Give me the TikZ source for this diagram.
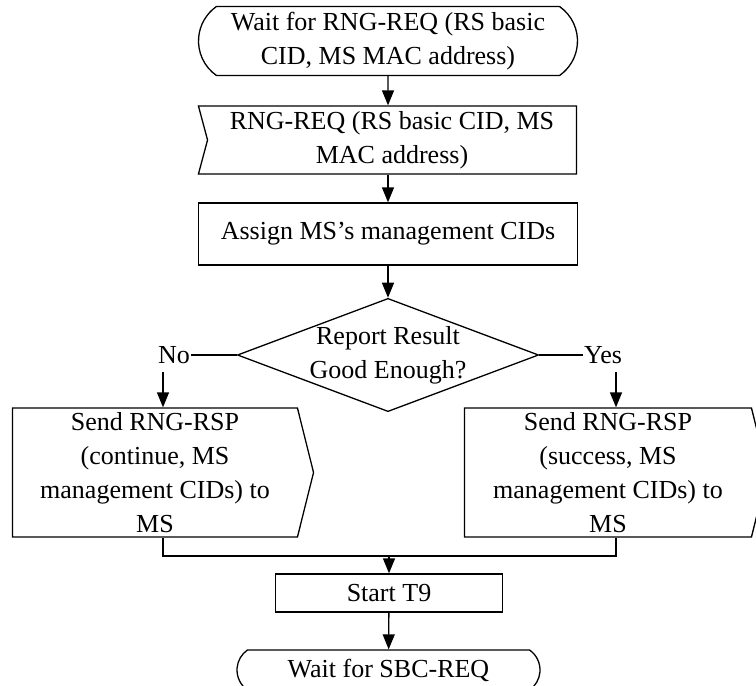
\documentclass[tikz,border=0pt]{standalone}
\usepackage{fontspec}
\setmainfont{Liberation Serif}
\usetikzlibrary{positioning,shapes.geometric,shapes.misc,shapes.symbols,arrows.meta}

\begin{document}
\begin{tikzpicture}[
  x=0.5pt, y=-0.5pt,
  line width=0.65pt,
  >={Triangle[length=7.5pt,width=6pt]},
  every node/.style={font=\fontsize{13}{17}\selectfont, inner sep=0pt},
  term/.style={draw, rounded rectangle, rounded rectangle arc length=110, align=center},
  inbox/.style={draw, signal, signal from=west, signal to=nowhere, signal pointer angle=150, align=center},
  outbox/.style={draw, signal, signal to=east, signal pointer angle=152, align=center},
  box/.style={draw, rectangle, align=center},
  decision/.style={draw, diamond, aspect=2.66, inner sep=-0.6pt, align=center}
]
\useasboundingbox (0,0) rectangle (756,686);
\clip (0,0) rectangle (756,686);

\node[term, minimum width=189.5pt, minimum height=34.5pt] (wait) at (388,41) {Wait for RNG-REQ (RS basic\\CID, MS MAC address)};
\node[inbox, minimum width=189pt, minimum height=34pt] (req) at (392,140) {RNG-REQ (RS basic CID, MS\\MAC address)};
\node[box, minimum width=189.5pt, minimum height=31pt] (assign) at (388,234) {Assign MS’s management CIDs};
\node[decision, minimum width=150.5pt, minimum height=56.5pt] (good) at (388,355) {Report Result\\Good Enough?};

\node (no) at (174,355) {No};
\node (yes) at (603,355) {Yes};

\node[outbox, minimum width=150.5pt, minimum height=64.5pt] (cont) at (155,472.5) {Send RNG-RSP\\(continue, MS\\management CIDs) to\\MS};
\node[outbox, minimum width=151.5pt, minimum height=64.5pt] (succ) at (608,472.5) {Send RNG-RSP\\(success, MS\\management CIDs) to\\MS};

\coordinate (merge) at (389,556);
\node[box, minimum width=113.5pt, minimum height=19pt] (t9) at (389,593) {Start T9};
\node[term, minimum width=151.5pt, minimum height=20pt] (sbc) at (388.5,670) {Wait for SBC-REQ};

\draw[->] (wait) -- (req.north -| wait.south);
\draw[->] (req.south -| assign.north) -- (assign);
\draw[->] (assign) -- (good);
\draw (good.west) -- (no.east);
\draw (good.east) -- (yes.west);
\draw[->] ([yshift=-4pt]no.south -| cont.north) ++(4pt,0) -- ([xshift=4pt]cont.north);
\draw[->] ([yshift=-4pt]yes.south -| succ.north) ++(4pt,0) -- ([xshift=4pt]succ.north);
\draw ([xshift=4pt]cont.south) |- (merge) -| ([xshift=4pt]succ.south);
\draw[->] (merge) -- (t9);
\draw[->] (t9) -- (sbc);

\end{tikzpicture}
\end{document}
